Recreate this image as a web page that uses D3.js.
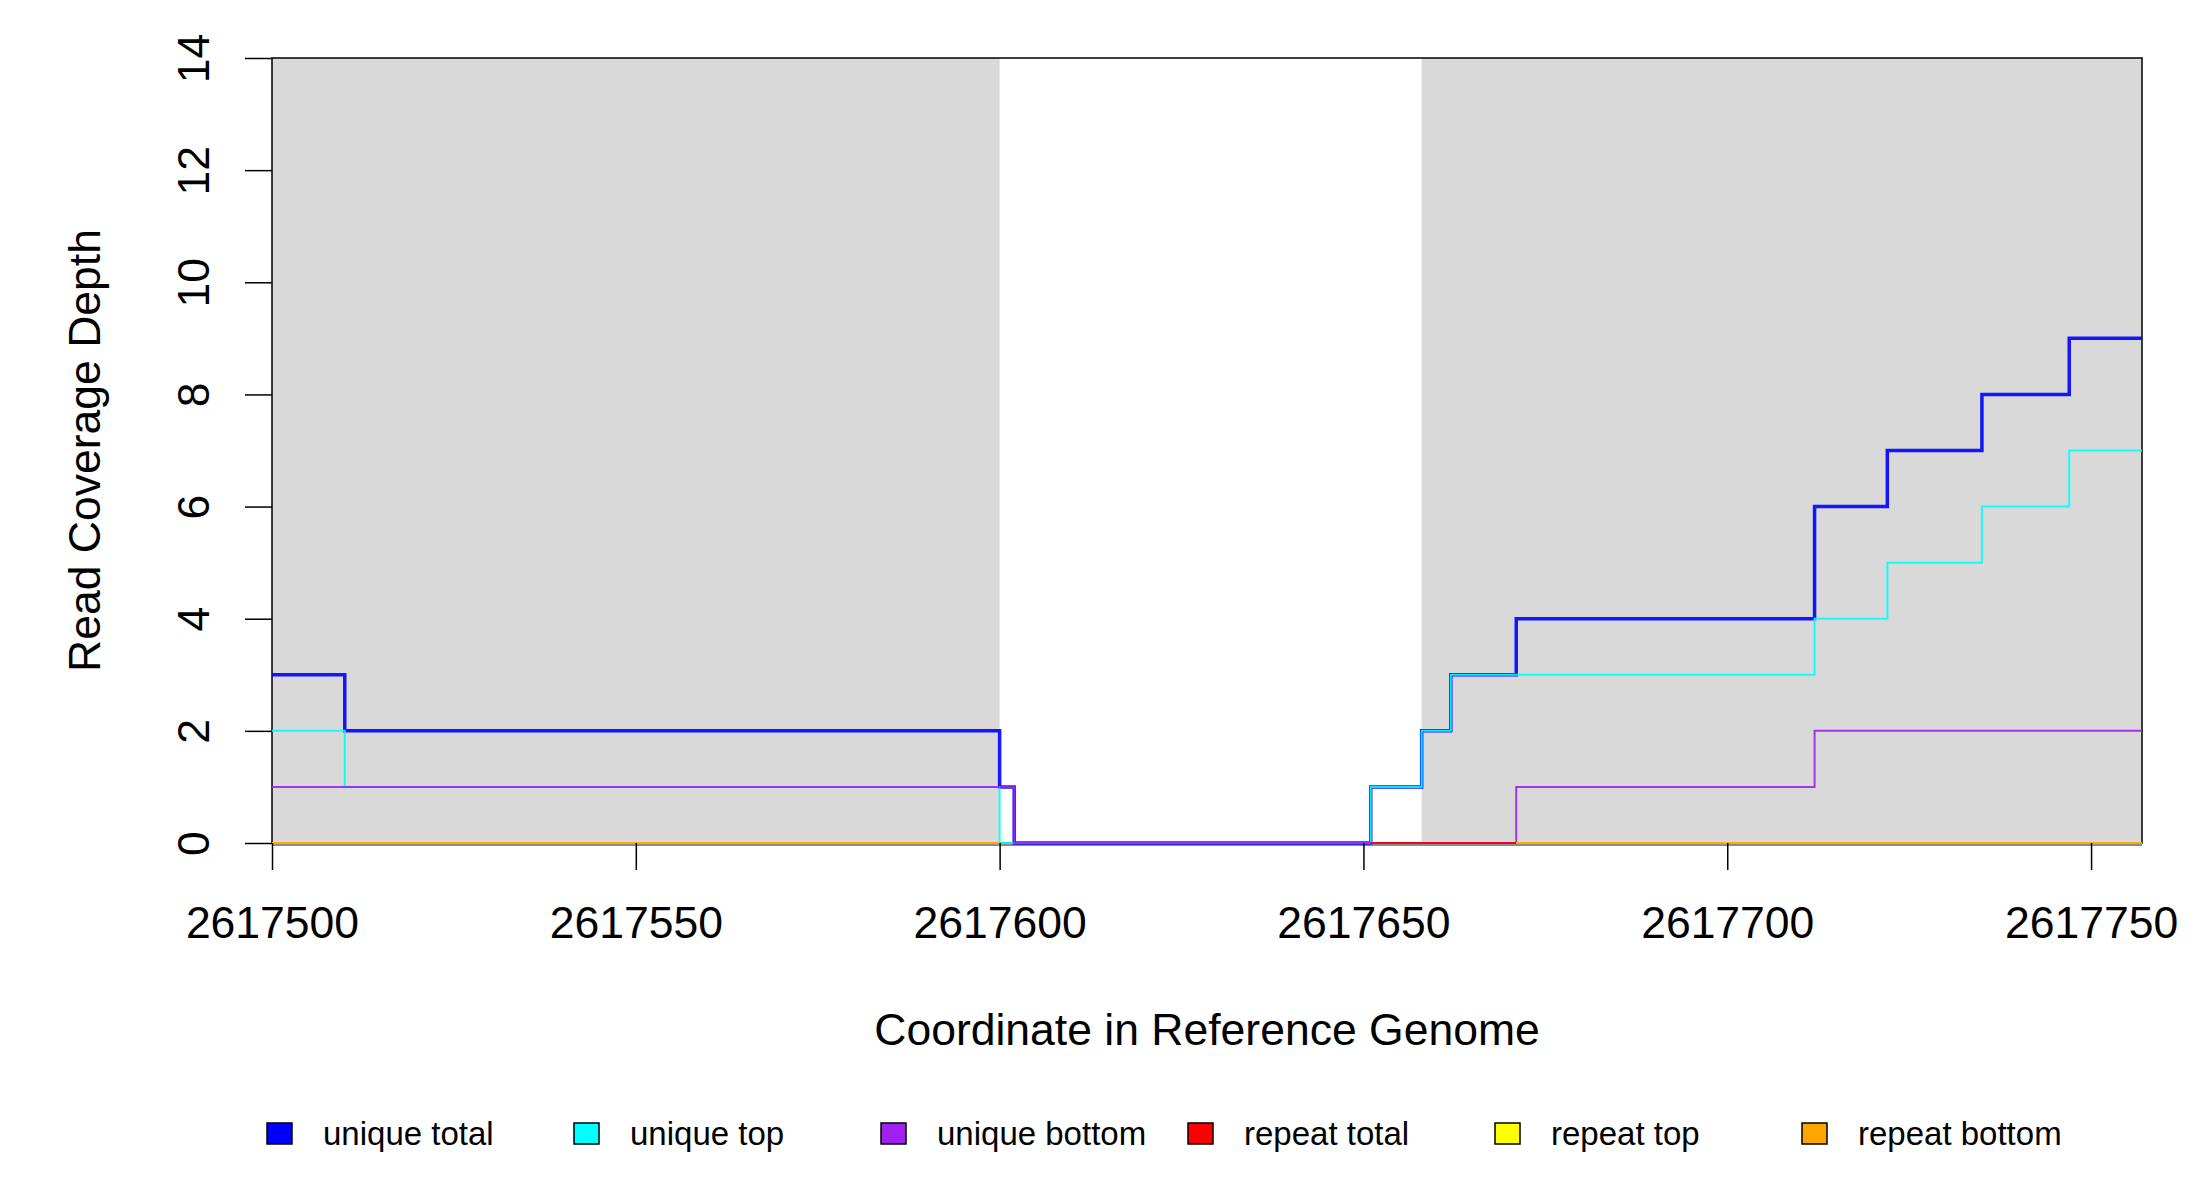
<!DOCTYPE html>
<html>
<head>
<meta charset="utf-8">
<script src="https://cdn.jsdelivr.net/npm/d3@7"></script>
<style>
  body { margin: 0; background: #fff; }
  svg text { font-family: "Liberation Sans", Arial, sans-serif; fill: #000; }
</style>
</head>
<body>
<svg width="2200" height="1200"></svg>
<script>
// step boundaries (genome coordinate) and depth for each step
const breaks = [2617500, 2617510, 2617600, 2617602, 2617651, 2617658, 2617662, 2617671, 2617712, 2617722, 2617735, 2617747, 2617757]
const uniqueTotal  = [3, 2, 1, 0, 1, 2, 3, 4, 6, 7, 8, 9]
const uniqueTop    = [2, 1, 0, 0, 1, 2, 3, 3, 4, 5, 6, 7]
const uniqueBottom = [1, 1, 1, 0, 0, 0, 0, 1, 2, 2, 2, 2]
const repeatTotal  = [0, 0, null, null, 0, 0, 0, 0, 0, 0, 0, 0]
const repeatTop    = [0, 0, null, null, null, null, null, 0, 0, 0, 0, 0]
const repeatBottom = [0, 0, null, null, null, null, null, 0, 0, 0, 0, 0]

// shaded (gray) regions
const shaded = [[2617500, 2617600], [2617658, 2617757]]

const xTicks = [2617500, 2617550, 2617600, 2617650, 2617700, 2617750]
const yTicks = [0, 2, 4, 6, 8, 10, 12, 14]

const seriesNames  = ["unique total", "unique top", "unique bottom", "repeat total", "repeat top", "repeat bottom"]
const seriesColors = ["#0000ff", "#00ffff", "#a020f0", "#ff0000", "#ffff00", "#ffa500"]
const seriesValues = [uniqueTotal, uniqueTop, uniqueBottom, repeatTotal, repeatTop, repeatBottom]
const seriesWidth  = [3.5, 2, 2, 2, 2, 2]

const svg = d3.select("svg")

const x = d3.scaleLinear().domain([2617500, 2617757]).range([272, 2142])
const y = d3.scaleLinear().domain([0, 14]).range([843, 58])

// gray regions
svg.selectAll("rect.shade")
    .data(shaded)
    .enter().append("rect")
    .attr("class", "shade")
    .attr("fill", "#d9d9d9")
    .attr("x", d => x(d[0]))
    .attr("width", d => x(d[1]) - x(d[0]))
    .attr("y", y(14))
    .attr("height", y(0) - y(14))

// box
svg.append("rect")
    .attr("x", x(2617500))
    .attr("y", y(14))
    .attr("width", x(2617757) - x(2617500))
    .attr("height", y(0) - y(14))
    .attr("fill", "none")
    .attr("stroke", "#000")
    .attr("stroke-width", 1.5)
svg.append("line")
    .attr("x1", x(2617500)).attr("x2", x(2617757))
    .attr("y1", y(0) + 2).attr("y2", y(0) + 2)
    .attr("stroke", "#666").attr("stroke-width", 1.5)

// step lines
const line = d3.line()
    .defined(d => d[1] != null)
    .x(d => x(d[0]))
    .y(d => y(d[1]))

seriesValues.forEach((vals, s) => {
    let pts = []
    vals.forEach((v, i) => {
        pts.push([breaks[i], v])
        pts.push([breaks[i + 1], v])
    })
    svg.append("path")
        .attr("d", line(pts))
        .attr("fill", "none")
        .attr("stroke", seriesColors[s])
        .attr("stroke-width", seriesWidth[s])
        .attr("stroke-opacity", 0.9)
})

// x axis
const xAxis = svg.append("g")
    .attr("transform", `translate(0,${y(0)})`)
    .call(d3.axisBottom(x).tickValues(xTicks).tickFormat(d3.format("d")).tickSize(27).tickPadding(36))
xAxis.select(".domain").remove()
xAxis.selectAll("line").attr("stroke", "#000").attr("stroke-width", 1.5)
xAxis.selectAll("text").style("font-size", "44.5px")

// y axis
const yAxis = svg.append("g")
    .attr("transform", `translate(${x(2617500)},0)`)
    .call(d3.axisLeft(y).tickValues(yTicks).tickSize(27))
yAxis.select(".domain").remove()
yAxis.selectAll("line").attr("stroke", "#000").attr("stroke-width", 1.5)
yAxis.selectAll("text")
    .style("font-size", "44.5px")
    .attr("x", 0)
    .attr("dy", 0)
    .attr("text-anchor", "middle")
    .attr("transform", "translate(-63,0) rotate(-90)")

// titles
svg.append("text")
    .attr("x", (x(2617500) + x(2617757)) / 2)
    .attr("y", 1045)
    .attr("text-anchor", "middle")
    .style("font-size", "44.5px")
    .text("Coordinate in Reference Genome")

svg.append("text")
    .attr("transform", `translate(100,${(y(0) + y(14)) / 2}) rotate(-90)`)
    .attr("text-anchor", "middle")
    .style("font-size", "44.5px")
    .text("Read Coverage Depth")

// legend
const legend = svg.selectAll("g.leg")
    .data(seriesNames)
    .enter().append("g")
    .attr("class", "leg")
    .attr("transform", (d, i) => `translate(${267 + i * 307},1123)`)

legend.append("rect")
    .attr("width", 25)
    .attr("height", 21)
    .attr("fill", (d, i) => seriesColors[i])
    .attr("stroke", "#000")
    .attr("stroke-width", 1.5)

legend.append("text")
    .attr("x", 56)
    .attr("y", 22)
    .style("font-size", "33px")
    .text(d => d)
</script>
</body>
</html>
